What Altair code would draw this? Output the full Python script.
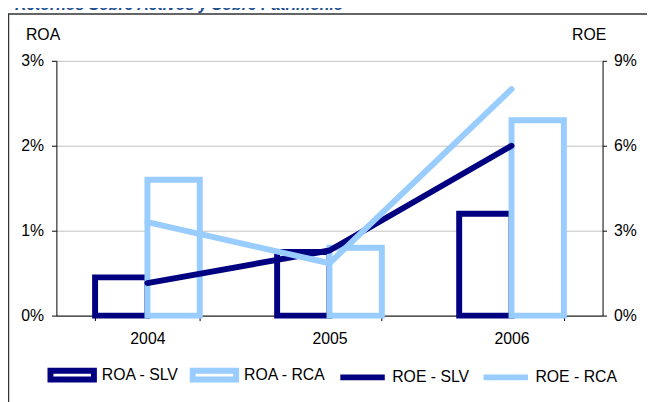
import altair as alt
import pandas as pd

years = ["2004", "2005", "2006"]
roa_slv = [0.45, 0.75, 1.2]
roa_rca = [1.6, 0.8, 2.3]
roe_slv = [1.15, 2.3, 6.0]
roe_rca = [3.3, 1.85, 8.0]

series = ["ROA - SLV", "ROA - RCA", "ROE - SLV", "ROE - RCA"]
colors = ["#000080", "#99CCFF", "#000080", "#99CCFF"]
shapes = [
    "M-0.88,-0.18H0.88V0.18H-0.88Z",
    "M-0.88,-0.18H0.88V0.18H-0.88Z",
    "M-0.9,0H0.9",
    "M-0.9,0H0.9",
]

FONT = "Liberation Sans"
FS = 16

roa = pd.DataFrame(
    {"year": years * 2,
     "series": ["ROA - SLV"] * 3 + ["ROA - RCA"] * 3,
     "value": roa_slv + roa_rca}
)
roe = pd.DataFrame(
    {"year": years * 2,
     "series": ["ROE - SLV"] * 3 + ["ROE - RCA"] * 3,
     "value": roe_slv + roe_rca}
)
leg = pd.DataFrame({"series": series})

xscale = alt.Scale(domain=years, paddingInner=0.425, paddingOuter=0.2125)
xaxis = alt.Axis(title=None, tickBand="extent", labelPadding=10, tickSize=5, labelAngle=0,
                 domainColor="black", tickColor="black")
# stroke scale for the marks (its legend is off); domain order differs from the legend scale
stroke_scale = alt.Scale(domain=series[::-1], range=colors[::-1])

bars = alt.Chart(roa).mark_bar(fill="white", strokeWidth=6).encode(
    x=alt.X("year:N", scale=xscale, axis=xaxis),
    xOffset=alt.XOffset("series:N", scale=alt.Scale(domain=["ROA - SLV", "ROA - RCA"], paddingInner=0, paddingOuter=0)),
    y=alt.Y("value:Q", scale=alt.Scale(domain=[0, 3]),
            axis=alt.Axis(values=[0, 1, 2, 3], labelExpr="datum.value + '%'", title="ROA",
                          titleAngle=0, titleX=-14, titleY=-27, titleAlign="center",
                          titleBaseline="middle", titleFontWeight="normal", titleFontSize=FS,
                          titleFont=FONT, grid=True, gridColor="#C0C0C0", tickSize=5,
                          labelPadding=8, domainColor="black", tickColor="black")),
    stroke=alt.Stroke("series:N", scale=stroke_scale, legend=None),
)

lines = alt.Chart(roe).mark_line(strokeWidth=6, strokeCap="round", strokeJoin="round").encode(
    x=alt.X("year:N", scale=xscale, axis=xaxis),
    y=alt.Y("value:Q", scale=alt.Scale(domain=[0, 9]),
            axis=alt.Axis(orient="right", values=[0, 3, 6, 9], labelExpr="datum.value + '%'",
                          title="ROE", titleAngle=0, titleX=-14, titleY=-27, titleAlign="center",
                          titleBaseline="middle", titleFontWeight="normal", titleFontSize=FS,
                          titleFont=FONT, grid=False, tickSize=4, labelPadding=7,
                          domainColor="black", tickColor="black")),
    stroke=alt.Stroke("series:N", scale=stroke_scale, legend=None),
)

legend_layer = alt.Chart(leg).mark_point(filled=False).encode(
    color=alt.Color("series:N", scale=alt.Scale(domain=series, range=colors),
                    legend=alt.Legend(title=None, orient="none", legendX=-12, legendY=290,
                                      direction="horizontal", symbolSize=2500,
                                      symbolStrokeWidth=6, symbolOpacity=1,
                                      labelFontSize=FS, labelFont=FONT,
                                      labelColor="black", labelOffset=2, columnPadding=2,
                                      padding=0)),
    shape=alt.Shape("series:N", scale=alt.Scale(domain=series, range=shapes)),
).transform_filter("false")

frame = alt.Chart(pd.DataFrame({"a": [1]})).mark_rect(
    filled=False, stroke="#333333", strokeWidth=1.5
).encode(
    x=alt.value(-48.5), x2=alt.value(700), y=alt.value(-47.5), y2=alt.value(500)
)

title = alt.Chart(pd.DataFrame({"a": [1]})).mark_text(
    text="Retornos Sobre Activos y Sobre Patrimonio", align="left", baseline="bottom",
    font=FONT, fontSize=16, fontWeight="bold", fontStyle="italic", color="#1B4F91"
).encode(x=alt.value(-42), y=alt.value(-48))

chart = alt.layer(frame, title, bars, lines, legend_layer).resolve_scale(
    y="independent"
).properties(
    width=553, height=258,
    autosize=alt.AutoSizeParams(type="none"),
    padding={"left": 49, "top": 51, "right": 45, "bottom": 85},
).configure_view(stroke=None).configure_axis(
    labelFont=FONT, labelFontSize=FS, labelColor="black", titleColor="black"
)

chart.save("out.html", embed_options={"renderer": "svg", "actions": False})
